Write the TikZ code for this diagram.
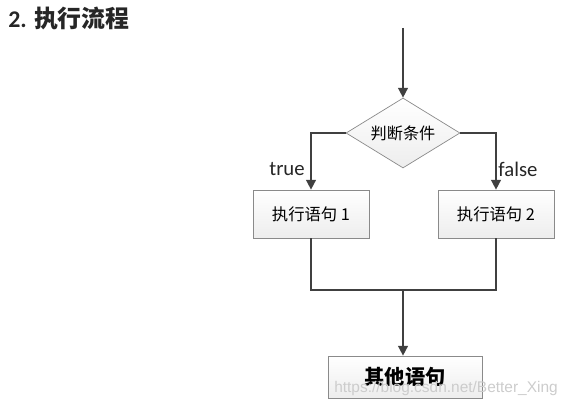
\documentclass[tikz,border=0pt]{standalone}
\usepackage{fontspec}
\setmainfont{Carlito}
\newfontfamily\cjk{Noto Sans CJK SC}
\newfontfamily\wmfont{Liberation Sans}
\usetikzlibrary{shapes.geometric,arrows.meta,shadows}

\definecolor{linegray}{HTML}{404040}
\definecolor{boxgray}{HTML}{8A8A8A}

\tikzset{
  flow/.style={draw=linegray, line width=0.9pt, -{Triangle[length=5.5pt,width=5.5pt]}},
  joinline/.style={draw=linegray, line width=0.9pt},
  stepbox/.style={draw=boxgray, top color=white, bottom color=gray!14,
    drop shadow={shadow xshift=0.8pt, shadow yshift=-0.8pt, opacity=0.25},
    minimum width=2.32cm, minimum height=0.96cm, inner sep=0pt,
    font=\cjk\fontsize{9.3}{11}\selectfont},
  condbox/.style={diamond, draw=boxgray, top color=white, bottom color=gray!14,
    minimum width=2.28cm, minimum height=1.4cm, inner sep=0pt, aspect=1.63,
    font=\cjk\fontsize{9.2}{11}\selectfont},
  branch/.style={font=\fontsize{11.8}{13}\selectfont, text=black!85}
}

\begin{document}
\begin{tikzpicture}[x=0.02cm, y=-0.02cm]
\useasboundingbox (0,0) rectangle (570,408);

% title
\node[anchor=west, inner sep=0pt, font=\bfseries\fontsize{13.6}{15}\selectfont, text=black!85] (title) at (8,18) {2. {\cjk 执行流程}};

% nodes
\coordinate (start) at (403,28);
\node[condbox] (cond) at (403,133) {判断条件};
\node[stepbox] (s1) at (311,214) {执行语句 1};
\node[stepbox] (s2) at (496,214) {执行语句 2};
\coordinate (join) at (403,290);
\node[stepbox, minimum width=3.08cm, minimum height=0.84cm,
      font=\cjk\bfseries\fontsize{11.5}{13}\selectfont] (other) at (405,377) {其他语句};

\node[branch] (tl) at (287,169) {true};
\node[branch] (fl) at (518,169) {false};

% connectors
\draw[flow] (start) -- (cond.north);
\draw[flow] (cond.west) -| (s1.north);
\draw[flow] (cond.east) -| (s2.north);
\draw[joinline] (s1.south) |- (join) -| (s2.south);
\draw[flow] (join) -- (join |- other.north);

% watermark
\node[text=gray!40, font=\wmfont\fontsize{8.8}{10}\selectfont] (wm) at (446,388) {https://blog.csdn.net/Better\_Xing};

\end{tikzpicture}
\end{document}
